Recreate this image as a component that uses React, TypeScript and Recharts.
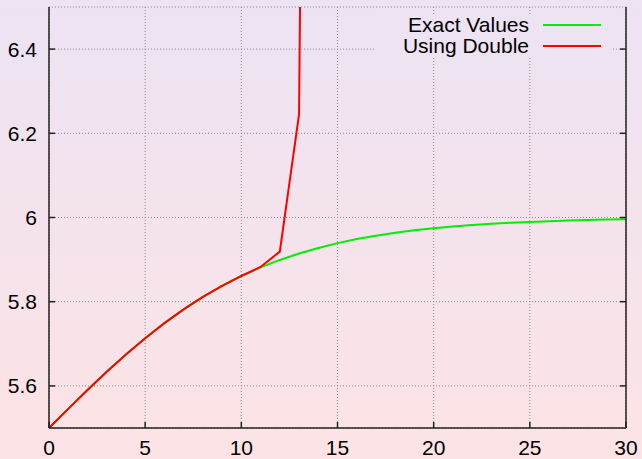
import React from "react";
import {
  LineChart,
  Line,
  XAxis,
  YAxis,
  CartesianGrid,
  Legend,
} from "recharts";

const steps = [
  0, 1, 2, 3, 4, 5, 6, 7, 8, 9, 10, 11, 12, 13, 14, 15, 16, 17, 18, 19, 20,
  21, 22, 23, 24, 25, 26, 27, 28, 29, 30,
];

const exactValues = [
  5.5, 5.5455, 5.5902, 5.6334, 5.6746, 5.7133, 5.7491, 5.7818, 5.8113, 5.8377,
  5.861, 5.8814, 5.8992, 5.9145, 5.9277, 5.9391, 5.9487, 5.9569, 5.9638,
  5.9696, 5.9746, 5.9787, 5.9822, 5.9851, 5.9876, 5.9896, 5.9913, 5.9928,
  5.994, 5.995, 5.9958,
];

const doubleValues = [
  5.5, 5.5455, 5.5902, 5.6334, 5.6746, 5.7133, 5.7491, 5.7818, 5.8113, 5.8377,
  5.8611, 5.8826, 5.919, 6.245, 11.25, 53.3, 94.8, 99.7, 99.98, 100, 100, 100,
  100, 100, 100, 100, 100, 100, 100, 100, 100,
];

const xTicks = [0, 5, 10, 15, 20, 25, 30];
const yTicks = [5.6, 5.8, 6, 6.2, 6.4];
const seriesNames = ["Exact Values", "Using Double"];
const seriesColors = ["#00ee00", "#ff0000"];

const data = steps.map((n, i) => ({
  n,
  exact: exactValues[i],
  dbl: doubleValues[i],
}));

const FONT = '"Liberation Sans", Arial, Helvetica, sans-serif';
const AXIS = "#222";

const BottomTick = (props: any) => {
  const { x, y, payload } = props;
  return (
    <g>
      <line x1={x} y1={y} x2={x} y2={y - 6} stroke={AXIS} strokeWidth={1.5} />
      <text
        x={x}
        y={y + 27}
        textAnchor="middle"
        fontSize={21}
        fontFamily={FONT}
        fill="#000"
      >
        {payload.value}
      </text>
    </g>
  );
};

const TopTick = (props: any) => {
  const { x, y } = props;
  return <line x1={x} y1={y} x2={x} y2={y + 6} stroke={AXIS} strokeWidth={1.5} />;
};

const LeftTick = (props: any) => {
  const { x, y, payload } = props;
  return (
    <g>
      <line x1={x} y1={y} x2={x + 6} y2={y} stroke={AXIS} strokeWidth={1.5} />
      <text
        x={x - 12}
        y={y + 7.5}
        textAnchor="end"
        fontSize={21}
        fontFamily={FONT}
        fill="#000"
      >
        {String(payload.value)}
      </text>
    </g>
  );
};

const RightTick = (props: any) => {
  const { x, y } = props;
  return <line x1={x} y1={y} x2={x - 6} y2={y} stroke={AXIS} strokeWidth={1.5} />;
};

const LegendContent = () => (
  <div
    style={{
      width: "100%",
      height: "100%",
      background: "#ede3f2",
      fontFamily: FONT,
      fontSize: 21,
      lineHeight: "21px",
      color: "#000",
    }}
  >
    {seriesNames.map((name, i) => (
      <div
        key={name}
        style={{ display: "flex", alignItems: "center", height: 21 }}
      >
        <div style={{ width: 154, textAlign: "right", whiteSpace: "nowrap" }}>
          {name}
        </div>
        <div
          style={{
            marginLeft: 14,
            width: 58,
            height: 2,
            background: seriesColors[i],
          }}
        />
      </div>
    ))}
  </div>
);

export default function App() {
  return (
    <div
      style={{
        position: "absolute",
        left: 0,
        top: 0,
        width: 642,
        height: 459,
        background: "linear-gradient(to bottom, #ece3f3 0%, #fde3e5 100%)",
      }}
    >
      <LineChart
        width={642}
        height={459}
        data={data}
        margin={{ top: 7, right: 0, bottom: 0, left: 0 }}
      >
        <CartesianGrid
          xAxisId="b"
          yAxisId="l"
          stroke="#8a8a8a"
          strokeDasharray="1 2"
          strokeWidth={1}
        />
        <XAxis
          xAxisId="b"
          dataKey="n"
          type="number"
          domain={[0, 30]}
          ticks={xTicks}
          height={31}
          tickSize={0}
          tickMargin={0}
          tick={<BottomTick />}
          axisLine={{ stroke: AXIS, strokeWidth: 1.5 }}
          tickLine={false}
          interval={0}
        />
        <XAxis
          xAxisId="t"
          orientation="top"
          dataKey="n"
          type="number"
          domain={[0, 30]}
          ticks={xTicks}
          height={0}
          tickSize={0}
          tickMargin={0}
          tick={<TopTick />}
          axisLine={{ stroke: AXIS, strokeWidth: 1.5 }}
          tickLine={false}
          interval={0}
        />
        <YAxis
          yAxisId="l"
          type="number"
          domain={[5.5, 6.5]}
          allowDataOverflow
          ticks={yTicks}
          width={49}
          tickSize={0}
          tickMargin={0}
          tick={<LeftTick />}
          axisLine={{ stroke: AXIS, strokeWidth: 1.5 }}
          tickLine={false}
          interval={0}
        />
        <YAxis
          yAxisId="r"
          orientation="right"
          type="number"
          domain={[5.5, 6.5]}
          allowDataOverflow
          ticks={yTicks}
          width={16}
          tickSize={0}
          tickMargin={0}
          tick={<RightTick />}
          axisLine={{ stroke: AXIS, strokeWidth: 1.5 }}
          tickLine={false}
          interval={0}
        />
        <Legend
          layout="vertical"
          align="center"
          verticalAlign="middle"
          content={<LegendContent />}
          wrapperStyle={{ left: 375, top: 14, width: 238, height: 43 }}
        />
        <Line
          xAxisId="b"
          yAxisId="l"
          type="linear"
          dataKey="exact"
          name={seriesNames[0]}
          stroke={seriesColors[0]}
          strokeWidth={2}
          dot={false}
          activeDot={false}
          isAnimationActive={false}
        />
        <Line
          xAxisId="b"
          yAxisId="l"
          type="linear"
          dataKey="dbl"
          name={seriesNames[1]}
          stroke={seriesColors[1]}
          strokeWidth={2}
          dot={false}
          activeDot={false}
          isAnimationActive={false}
        />
      </LineChart>
    </div>
  );
}
